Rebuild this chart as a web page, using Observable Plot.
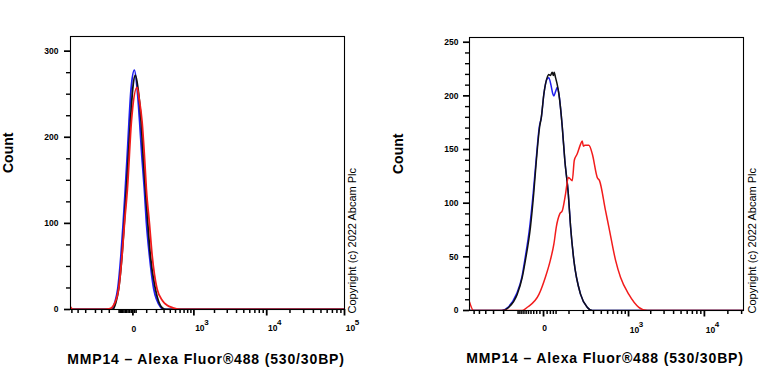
<!DOCTYPE html>
<html><head><meta charset="utf-8">
<script src="https://cdn.jsdelivr.net/npm/d3@7"></script>
<script src="https://cdn.jsdelivr.net/npm/@observablehq/plot@0.6"></script>
<style>
body{margin:0;background:#fff;}
#wrap{display:flex;width:768px;height:384px;}
</style></head><body><div id="wrap"></div>
<script>
// ---- Data (fluorescence intensity, count) ----
const leftBlackX = [-1050, -160, -130, -104, -75, -57, -42, -28, -15, -1, 15, 33, 55, 70, 89, 109, 134, 187, 272, 330, 100000];
const leftBlackY = [0, 0, 8, 24, 63, 102, 140, 179, 218, 256, 272, 256, 218, 179, 140, 102, 63, 24, 2, 0, 0];
const leftBlueX = [-1050, -175, -140, -112, -84, -65, -50, -36, -24, -11, 9, 27, 44, 60, 80, 97, 125, 169, 250, 290, 100000];
const leftBlueY = [0, 0, 8, 24, 63, 102, 140, 179, 218, 256, 278, 256, 218, 179, 140, 102, 63, 24, 3, 0, 0];
const leftRedX = [-1050, -950, -260, -190, -152, -104, -75, -55, -35, -9, 26, 40, 62, 80, 97, 125, 152, 207, 280, 346, 450, 620, 100000];
const leftRedY = [3, 0, 0, 1, 5, 24, 63, 102, 140, 218, 258, 245, 218, 180, 140, 100, 63, 24, 10, 5, 2, 0, 0];

const rightBlackX = [-700, -212, -159, -105, -78, -63, -42, -30, -21, -11, -6, 1, 10, 15, 20, 26, 30, 33, 38, 45, 51, 66, 78, 96, 109, 129, 177, 234, 286, 31700];
const rightBlackY = [0, 0, 3, 15, 31, 47, 78, 109, 140, 171, 180, 202, 217, 220, 219, 222, 219, 222, 217, 210, 202, 171, 140, 109, 78, 47, 15, 3, 0, 0];
const rightBlueX = [-700, -220, -165, -110, -80, -66, -45, -32, -22, -12, -6, 1, 10, 15, 22, 28, 32, 38, 45, 51, 66, 78, 96, 109, 129, 177, 234, 286, 31700];
const rightBlueY = [0, 0, 3, 15, 31, 47, 78, 109, 140, 171, 180, 202, 216, 217, 210, 202, 200, 204, 208, 202, 171, 140, 109, 78, 47, 15, 3, 0, 0];
const rightRedX = [-700, -612, -78, -55, -13, 5, 20, 32, 41, 55, 66, 82, 96, 105, 119, 132, 152, 177, 190, 200, 212, 250, 286, 345, 375, 465, 521, 654, 771, 1010, 1384, 1796, 31700];
const rightRedY = [8, 0, 0, 3, 15, 31, 47, 62, 78, 90, 93, 109, 124, 123, 121, 140, 146, 155, 158, 153, 154, 154, 146, 124, 121, 93, 78, 47, 31, 15, 3, 0, 0];

// ---- Axis ticks and labels ----
const leftYMajor = [0, 100, 200, 300];
const leftYMinor = [25, 50, 75, 125, 150, 175, 225, 250, 275];
const rightYMajor = [0, 50, 100, 150, 200, 250];
const rightYMinor = d3.range(10, 250, 10).filter(v => v % 50 !== 0);
const leftDecades = [1000, 10000, 100000];
const rightDecades = [1000, 10000];
const exponents = {1000: "3", 10000: "4", 100000: "5"};
const leftXMinor = [-1000, -800, -600, -400, -300, -200, ...d3.range(-100, 0, 10), 10, 20,
  ...d3.range(100, 1000, 100), ...d3.range(2000, 10000, 1000), ...d3.range(20000, 100000, 10000)];
const rightXMinor = [-600, -500, -400, -300, -200, ...d3.range(-100, 0, 10), ...d3.range(10, 50, 10),
  ...d3.range(100, 1000, 100), ...d3.range(2000, 10000, 1000), 20000, 30000];

const yLabel = "Count";
const xLabel = "MMP14 – Alexa Fluor®488 (530/30BP)";
const copyright = "Copyright (c) 2022 Abcam Plc";

const toRows = (xs, ys) => xs.map((x, i) => ({x, y: ys[i]}));

function panel(cfg) {
  const lineOpts = (stroke) => ({x: "x", y: "y", stroke, strokeWidth: cfg.lw, curve: "monotone-x", clip: true});
  return Plot.plot({
    width: 384, height: 384,
    marginLeft: cfg.ml, marginRight: cfg.mr, marginTop: cfg.mt, marginBottom: cfg.mb,
    style: {fontFamily: "'Liberation Sans', Arial, sans-serif", fontWeight: "bold", background: "white", overflow: "visible"},
    x: {type: "symlog", constant: cfg.c, domain: cfg.xDomain},
    y: {domain: cfg.yDomain},
    marks: [
      Plot.line(toRows(cfg.blue[0], cfg.blue[1]), lineOpts("#1f1ff0")),
      Plot.line(toRows(cfg.black[0], cfg.black[1]), lineOpts("#111111")),
      Plot.line(toRows(cfg.red[0], cfg.red[1]), lineOpts("#f21c1c")),
      Plot.frame({stroke: "black", strokeWidth: 1.1}),
      Plot.axisY({ticks: cfg.yMajor, tickSize: 6, tickPadding: cfg.yPad, fontSize: cfg.fs, label: null, stroke: "black", fill: "black", strokeWidth: 1.7}),
      Plot.axisY({ticks: cfg.yMinor, tickSize: 4, tickFormat: () => "", label: null, stroke: "black", strokeWidth: 1.4}),
      Plot.axisX({ticks: [0, ...cfg.decades], tickSize: 6.5, tickFormat: () => "", label: null, stroke: "black", strokeWidth: 1.8}),
      Plot.axisX({ticks: cfg.xMinor, tickSize: 4, tickFormat: () => "", label: null, stroke: "black", strokeWidth: 1.5}),
      Plot.text([0], {x: d => d, frameAnchor: "bottom", text: () => "0", dy: cfg.zeroDy, dx: 1, fontSize: cfg.fs}),
      Plot.text(cfg.decades, {x: d => d, frameAnchor: "bottom", text: () => "10", dy: cfg.tenDy, dx: 6, fontSize: cfg.fs}),
      Plot.text(cfg.decades, {x: d => d, frameAnchor: "bottom", text: d => exponents[d], dy: cfg.tenDy - 6, dx: 12.5, fontSize: cfg.fs - 0.5}),
      Plot.text([yLabel], {frameAnchor: "left", rotate: -90, dx: cfg.countDx, fontSize: 14, fontWeight: "bold"}),
      Plot.text([xLabel], {frameAnchor: "bottom", dy: cfg.xLabDy, dx: -1.5, fontSize: 14, fontWeight: "bold"}),
      Plot.text([copyright], {frameAnchor: "bottom-right", rotate: -90, textAnchor: "start", dx: cfg.copyDx, dy: cfg.copyDy, fontSize: 11, fontWeight: "normal"})
    ]
  });
}

const wrap = document.getElementById("wrap");
wrap.append(panel({
  ml: 70, mr: 40, mt: 36, mb: 75, c: 200, xDomain: [-1050, 100000], yDomain: [0, 317],
  blue: [leftBlueX, leftBlueY], black: [leftBlackX, leftBlackY], red: [leftRedX, leftRedY],
  yMajor: leftYMajor, yMinor: leftYMinor, decades: leftDecades, xMinor: leftXMinor,
  fs: 8.5, yPad: 6, zeroDy: 22.5, tenDy: 21.5, countDx: -61.5, xLabDy: 54, copyDx: 11, copyDy: 4, lw: 1.8
}));
wrap.append(panel({
  ml: 85, mr: 25, mt: 37, mb: 74, c: 90, xDomain: [-700, 31700], yDomain: [0, 254.4],
  blue: [rightBlueX, rightBlueY], black: [rightBlackX, rightBlackY], red: [rightRedX, rightRedY],
  yMajor: rightYMajor, yMinor: rightYMinor, decades: rightDecades, xMinor: rightXMinor,
  fs: 8.5, yPad: 5, zeroDy: 20.5, tenDy: 22, countDx: -71, xLabDy: 52, copyDx: 12, copyDy: 3, lw: 1.5
}));
document.querySelectorAll("svg text").forEach(t => {
  if (t.textContent.startsWith("MMP14")) t.style.letterSpacing = "0.85px";
});
</script></body></html>
